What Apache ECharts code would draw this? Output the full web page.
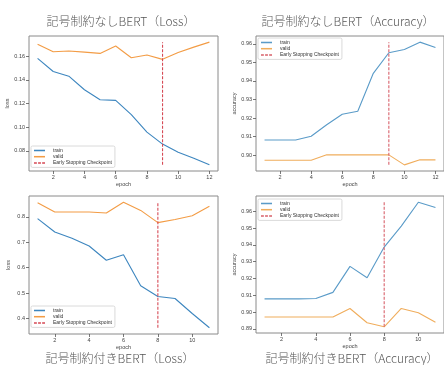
<!DOCTYPE html>
<html>
<head>
<meta charset="utf-8">
<script src="https://cdn.jsdelivr.net/npm/echarts@6/dist/echarts.min.js"></script>
<style>
  html, body { margin: 0; padding: 0; background: #fff; }
  #chart { width: 444px; height: 365px; }
</style>
</head>
<body>
<div id="chart"></div>
<script>
// Training curves: BERT without / with symbol constraints
const epochsNoSym = [1, 2, 3, 4, 5, 6, 7, 8, 9, 10, 11, 12];
const epochsSym = [1, 2, 3, 4, 5, 6, 7, 8, 9, 10, 11];

const noSymTrainLoss = [0.158, 0.147, 0.143, 0.1316, 0.1232, 0.1226, 0.1107, 0.0959, 0.0858, 0.0789, 0.0739, 0.0683];
const noSymValidLoss = [0.170, 0.1636, 0.1642, 0.1633, 0.1622, 0.1684, 0.1586, 0.1608, 0.1572, 0.163, 0.1675, 0.1717];
const noSymTrainAcc = [0.9082, 0.9082, 0.9082, 0.9102, 0.9164, 0.9221, 0.9237, 0.9441, 0.9552, 0.9569, 0.9609, 0.9580];
const noSymValidAcc = [0.8973, 0.8973, 0.8973, 0.8973, 0.9002, 0.9002, 0.9002, 0.9002, 0.9002, 0.8948, 0.8975, 0.8975];

const symTrainLoss = [0.793, 0.740, 0.716, 0.685, 0.629, 0.651, 0.529, 0.487, 0.479, 0.420, 0.364];
const symValidLoss = [0.855, 0.819, 0.819, 0.819, 0.815, 0.857, 0.825, 0.777, 0.789, 0.804, 0.841];
const symTrainAcc = [0.9078, 0.9078, 0.9078, 0.9080, 0.9117, 0.9272, 0.9204, 0.9387, 0.9512, 0.9654, 0.9622];
const symValidAcc = [0.8970, 0.8970, 0.8970, 0.8970, 0.8970, 0.9021, 0.8936, 0.8912, 0.9021, 0.8995, 0.8939];

const stopEpochNoSym = 9;
const stopEpochSym = 8;

const xTicksNoSym = [2, 4, 6, 8, 10, 12];
const xTicksSym = [2, 4, 6, 8, 10];
const yTicksNoSymLoss = [0.08, 0.10, 0.12, 0.14, 0.16];
const yTicksNoSymAcc = [0.90, 0.91, 0.92, 0.93, 0.94, 0.95, 0.96];
const yTicksSymLoss = [0.4, 0.5, 0.6, 0.7, 0.8];
const yTicksSymAcc = [0.89, 0.90, 0.91, 0.92, 0.93, 0.94, 0.95, 0.96];

const titles = ['記号制約なしBERT（Loss）', '記号制約なしBERT（Accuracy）', '記号制約付きBERT（Loss）', '記号制約付きBERT（Accuracy）'];
const seriesNames = ['train', 'valid', 'Early Stopping Checkpoint'];

// loss panels use the stronger tones, accuracy panels slightly paler ones
const lossColors = { train: '#3d86bf', valid: '#f39c45', stop: '#d64a55' };
const accColors = { train: '#5a9bc8', valid: '#f0ad5c', stop: '#d8606a' };
const TEXT = '#444';
const SMALL_FONT = '"Liberation Sans", Arial, sans-serif';
const CJK_FONT = '"Noto Sans CJK JP", "Noto Sans CJK SC", sans-serif';

// plot areas in pixels
const panels = [
  { epochs: epochsNoSym, train: noSymTrainLoss, valid: noSymValidLoss, stop: stopEpochNoSym, xTicks: xTicksNoSym, yTicks: yTicksNoSymLoss, dec: 2, yName: 'loss', colors: lossColors,
    grid: { left: 29, top: 36, width: 189, height: 135 }, title: { x: 121, y: 15 }, legend: { left: 31, top: 146 } },
  { epochs: epochsNoSym, train: noSymTrainAcc, valid: noSymValidAcc, stop: stopEpochNoSym, xTicks: xTicksNoSym, yTicks: yTicksNoSymAcc, dec: 2, yName: 'accuracy', colors: accColors,
    grid: { left: 256, top: 36, width: 189, height: 135 }, title: { x: 348, y: 15 }, legend: { left: 258, top: 38 } },
  { epochs: epochsSym, train: symTrainLoss, valid: symValidLoss, stop: stopEpochSym, xTicks: xTicksSym, yTicks: yTicksSymLoss, dec: 1, yName: 'loss', colors: lossColors,
    grid: { left: 29, top: 196, width: 189, height: 138 }, title: { x: 120, y: 352 }, legend: { left: 31, top: 306 } },
  { epochs: epochsSym, train: symTrainAcc, valid: symValidAcc, stop: stopEpochSym, xTicks: xTicksSym, yTicks: yTicksSymAcc, dec: 2, yName: 'accuracy', colors: accColors,
    grid: { left: 256, top: 196, width: 189, height: 137 }, title: { x: 352, y: 352 }, legend: { left: 258, top: 199 } }
];

// matplotlib-style autoscale: 5% padding around the data
function padded(values) {
  const lo = Math.min(...values), hi = Math.max(...values);
  const m = (hi - lo) * 0.05;
  return [lo - m, hi + m];
}

const solidIcon = 'path://M0,0 L10,0 L10,1.4 L0,1.4 Z';
const dashIcon = 'path://M0,0 L2.6,0 L2.6,1.4 L0,1.4 Z M3.7,0 L6.3,0 L6.3,1.4 L3.7,1.4 Z M7.4,0 L10,0 L10,1.4 L7.4,1.4 Z';

const option = {
  animation: false,
  backgroundColor: '#fff',
  title: [], grid: [], xAxis: [], yAxis: [], legend: [], series: []
};

panels.forEach((p, i) => {
  const all = p.train.concat(p.valid);
  const [xMin, xMax] = padded(p.epochs);
  const [yMin, yMax] = padded(all);
  const c = p.colors;

  option.title.push({
    text: titles[i], left: p.title.x, top: p.title.y, textAlign: 'center', padding: 0,
    textStyle: { fontFamily: CJK_FONT, fontSize: 12, fontWeight: 300, color: '#555' }
  });
  option.grid.push(Object.assign({ show: true, borderColor: '#8a8a8a', borderWidth: 1, backgroundColor: 'transparent' }, p.grid));

  const tickCommon = { show: true, length: 3, lineStyle: { color: '#555', width: 0.8 } };
  option.xAxis.push({
    type: 'value', gridIndex: i, min: xMin, max: xMax,
    name: 'epoch', nameLocation: 'middle', nameGap: 10,
    nameTextStyle: { fontFamily: SMALL_FONT, fontSize: 5.5, color: TEXT },
    axisLine: { show: false }, splitLine: { show: false },
    axisTick: Object.assign({ customValues: p.xTicks }, tickCommon),
    axisLabel: { customValues: p.xTicks, fontFamily: SMALL_FONT, fontSize: 5.5, color: TEXT, margin: 3 }
  });
  option.yAxis.push({
    type: 'value', gridIndex: i, min: yMin, max: yMax,
    name: p.yName, nameLocation: 'middle', nameGap: 18, nameRotate: 90,
    nameTextStyle: { fontFamily: SMALL_FONT, fontSize: 5.5, color: TEXT },
    axisLine: { show: false }, splitLine: { show: false },
    axisTick: Object.assign({ customValues: p.yTicks }, tickCommon),
    axisLabel: { customValues: p.yTicks, fontFamily: SMALL_FONT, fontSize: 5.5, color: TEXT, margin: 4,
      formatter: v => v.toFixed(p.dec) }
  });

  option.legend.push({
    left: p.legend.left, top: p.legend.top, orient: 'vertical',
    padding: [2, 3, 2, 3], itemGap: 1.2, itemWidth: 11, itemHeight: 1.6,
    borderColor: '#d0d0d0', borderWidth: 0.8, borderRadius: 1.5,
    backgroundColor: 'rgba(255,255,255,0.85)', selectedMode: false,
    textStyle: { fontFamily: SMALL_FONT, fontSize: 5, color: '#333', padding: [0, 0, 0, 3] },
    data: [
      { name: seriesNames[0], icon: solidIcon, itemStyle: { color: c.train } },
      { name: seriesNames[1], icon: solidIcon, itemStyle: { color: c.valid } },
      { name: seriesNames[2], icon: dashIcon, itemStyle: { color: c.stop } }
    ]
  });

  const lineOf = (name, vals, color) => ({
    name, type: 'line', xAxisIndex: i, yAxisIndex: i, symbol: 'none',
    data: p.epochs.map((e, k) => [e, vals[k]]),
    lineStyle: { color, width: 1.1 }, itemStyle: { color }
  });
  option.series.push(lineOf(seriesNames[0], p.train, c.train));
  option.series.push(lineOf(seriesNames[1], p.valid, c.valid));
  option.series.push({
    name: seriesNames[2], type: 'line', xAxisIndex: i, yAxisIndex: i, symbol: 'none',
    data: [[p.stop, Math.min(...all)], [p.stop, Math.max(...all)]],
    lineStyle: { color: c.stop, width: 1.1, type: [3, 1.5] }, itemStyle: { color: c.stop }
  });
});

const chart = echarts.init(document.getElementById('chart'), null, { renderer: 'canvas' });
chart.setOption(option);
</script>
</body>
</html>
